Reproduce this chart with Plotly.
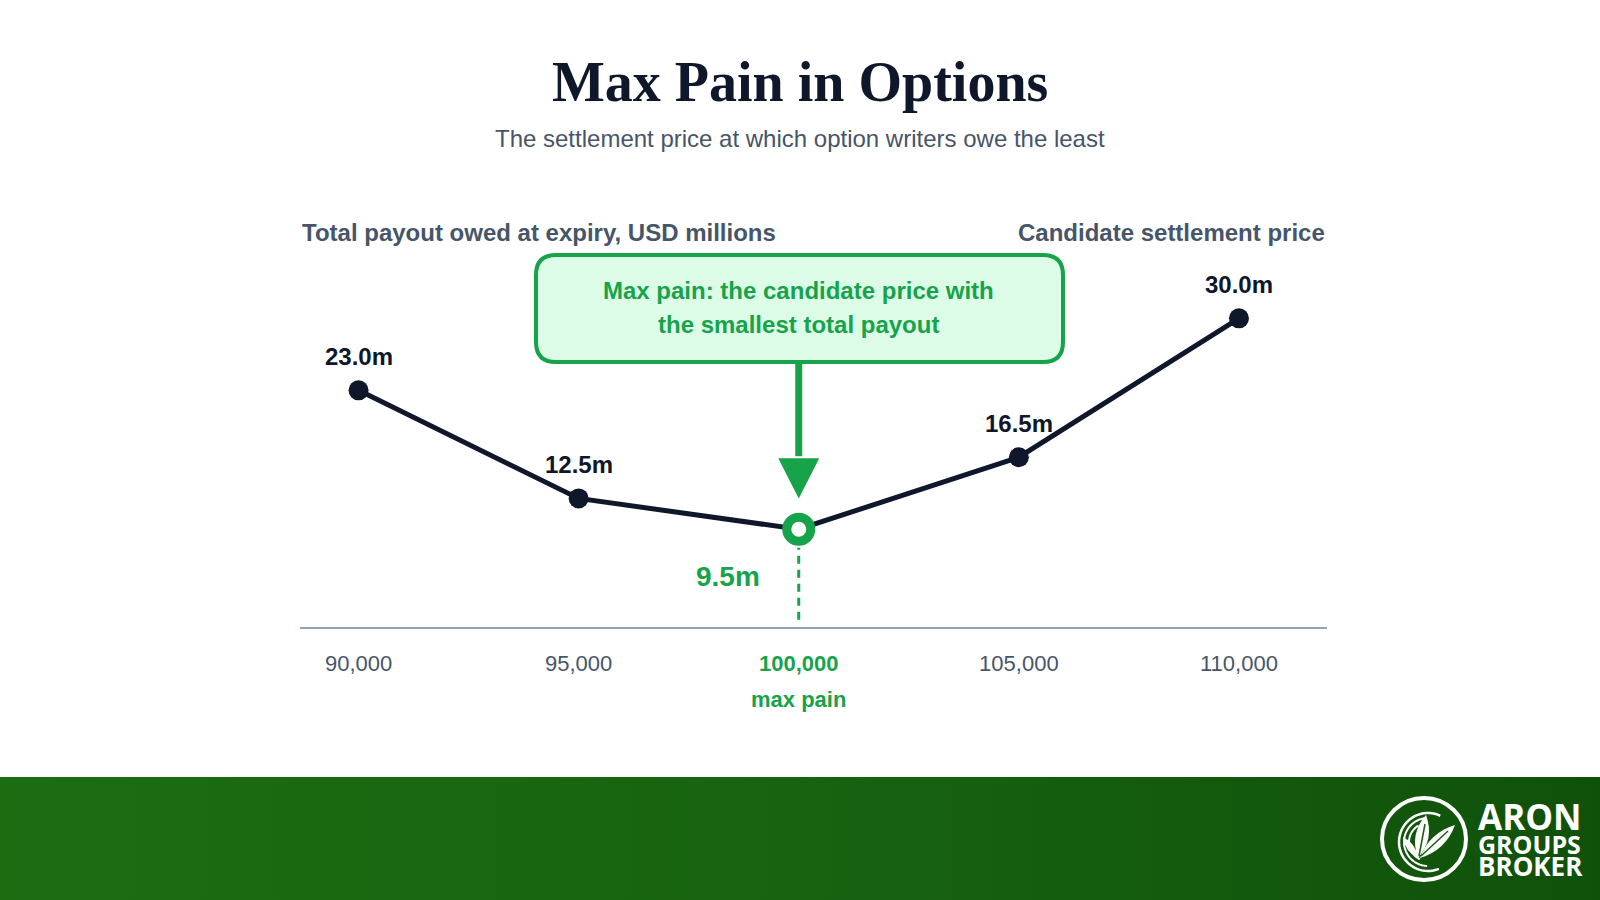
import math
import plotly.graph_objects as go

W, H = 1600, 900

# data
strikes = [90000, 95000, 100000, 105000, 110000]
payout_m = [23.0, 12.5, 9.5, 16.5, 30.0]
tick_text = ["90,000", "95,000", "100,000", "105,000", "110,000"]

title = "Max Pain in Options"
subtitle = "The settlement price at which option writers owe the least"
y_header = "Total payout owed at expiry, USD millions"
x_header = "Candidate settlement price"
callout_lines = ["Max pain: the candidate price with", "the smallest total payout"]
min_note = "max pain"
logo_lines = ["ARON", "GROUPS", "BROKER"]

NAVY = "#0f172a"
SLATE = "#475569"
GREEN = "#16a34a"
SANS = "Liberation Sans"

# plot box in pixels
PX_L, PX_R, PX_T, PX_B = 300, 1327, 250, 627
Y_MAX = 36.64
X_RANGE = [88670, 112000]
X_PER_PX = (X_RANGE[1] - X_RANGE[0]) / (PX_R - PX_L)


def py_to_y(py):
    return (PX_B - py) / (PX_B - PX_T) * Y_MAX


i_min = payout_m.index(min(payout_m))
x_min, y_min = strikes[i_min], payout_m[i_min]

fig = go.Figure()

# footer band (pixel overlay axes)
fig.add_trace(go.Scatter(
    x=[0, W, W, 0, 0], y=[777, 777, H, H, 777], xaxis="x3", yaxis="y3",
    mode="lines", fill="toself", line=dict(width=0),
    fillgradient=dict(type="horizontal",
                      colorscale=[[0, "#1c6d12"], [0.5, "#176310"], [1, "#10510a"]]),
    hoverinfo="skip", showlegend=False))

# payout curve
fig.add_trace(go.Scatter(
    x=strikes, y=payout_m, mode="lines+markers",
    line=dict(color=NAVY, width=5),
    marker=dict(size=20, color=NAVY),
    hoverinfo="skip", showlegend=False))

# max pain point
fig.add_trace(go.Scatter(
    x=[x_min], y=[y_min], mode="markers",
    marker=dict(size=24, color="white", line=dict(color=GREEN, width=9)),
    hoverinfo="skip", showlegend=False))

ticks = [f'<span style="color:{GREEN}"><b>{t}</b></span>' if i == i_min else t
         for i, t in enumerate(tick_text)]


def note(text, x, y, size, color, xref="paper", yref="paper", family=SANS, **kw):
    d = dict(text=text, x=x, y=y, xref=xref, yref=yref, showarrow=False,
             xanchor="center", yanchor="middle",
             font=dict(family=family, size=size, color=color))
    d.update(kw)
    return d


annotations = [
    note(f"<b>{title}</b>", 0.5, 1 - 82 / H, 56, NAVY, family="Liberation Serif"),
    note(subtitle, 0.5, 1 - 139 / H, 24, SLATE),
    note(f"<b>{y_header}</b>", PX_L / W, 1 - 232 / H, 24, SLATE, xanchor="left"),
    note(f"<b>{x_header}</b>", PX_R / W, 1 - 232 / H, 24, SLATE, xanchor="right"),
    note(f"<b>{min_note}</b>", x_min, 1 - 699 / H, 22, GREEN, xref="x"),
    note(f"<b>{y_min:.1f}m</b>", x_min, y_min, 28, GREEN, xref="x", yref="y",
         xshift=-71, yshift=-47),
]
for line, yy in zip(callout_lines, [291, 324]):
    annotations.append(note(f"<b>{line}</b>", x_min, 1 - yy / H, 24, GREEN, xref="x"))
for i, (s, v) in enumerate(zip(strikes, payout_m)):
    if i == i_min:
        continue
    annotations.append(note(f"<b>{v:.1f}m</b>", s, v, 24, NAVY, xref="x", yref="y", yshift=34))

logo_y = [816, 843.5, 866]
logo_size = [35, 25, 26]
for txt, yy, sz in zip(logo_lines, logo_y, logo_size):
    annotations.append(note(f"<b>{txt}</b>", 1476 / W, 1 - yy / H, sz, "white",
                            family="Open Sans", xanchor="left"))


def rounded_box(x0, y0, x1, y1, r):
    return (f"M {x0 + r},{y0} L {x1 - r},{y0} Q {x1},{y0} {x1},{y0 + r} "
            f"L {x1},{y1 - r} Q {x1},{y1} {x1 - r},{y1} L {x0 + r},{y1} "
            f"Q {x0},{y1} {x0},{y1 - r} L {x0},{y0 + r} Q {x0},{y0} {x0 + r},{y0} Z")


def arc(cx, cy, r, a0, a1, n=40):
    pts = []
    for k in range(n + 1):
        a = math.radians(a0 + (a1 - a0) * k / n)
        pts.append((cx + r * math.cos(a), cy - r * math.sin(a)))
    return "M " + " L ".join(f"{x:.2f},{y:.2f}" for x, y in pts)


def leaf(base, tip, w):
    bx, by = base
    tx, ty = tip
    mx, my = (bx + tx) / 2, (by + ty) / 2
    dx, dy = tx - bx, ty - by
    ln = math.hypot(dx, dy)
    nx, ny = -dy / ln * w, dx / ln * w
    return (f"M {bx},{by} Q {mx + nx:.2f},{my + ny:.2f} {tx},{ty} "
            f"Q {mx - nx:.2f},{my - ny:.2f} {bx},{by} Z")


tri_half = 20.5 * X_PER_PX
tip_y = y_min + 3.0
base_y = y_min + 6.9
box_bottom = 362
VEIN = "#176010"

shapes = [
    # callout box
    dict(type="path", xref="x3", yref="y3", path=rounded_box(536, 255, 1063, box_bottom, 20),
         fillcolor="#dcfce7", line=dict(color=GREEN, width=4), layer="above"),
    # arrow
    dict(type="line", xref="x", yref="y", x0=x_min, x1=x_min,
         y0=py_to_y(box_bottom + 2), y1=base_y + 0.2, line=dict(color=GREEN, width=7)),
    dict(type="path", xref="x", yref="y",
         path=f"M {x_min - tri_half},{base_y} L {x_min + tri_half},{base_y} L {x_min},{tip_y} Z",
         fillcolor=GREEN, line=dict(width=0)),
    # dashed drop line
    dict(type="line", xref="x", yref="y", x0=x_min, x1=x_min, y0=0.7, y1=y_min - 1.8,
         line=dict(color=GREEN, width=3, dash="8px,6px")),
    # logo
    dict(type="circle", xref="x3", yref="y3", x0=1424 - 42, x1=1424 + 42, y0=839 - 41, y1=839 + 41,
         line=dict(color="white", width=4), layer="above"),
    dict(type="path", xref="x3", yref="y3", path=arc(1428, 842, 29, 65, 292),
         line=dict(color="white", width=2.5), layer="above"),
    dict(type="path", xref="x3", yref="y3", path=arc(1428, 842, 24, 95, 268),
         line=dict(color="white", width=2), layer="above"),
    dict(type="path", xref="x3", yref="y3", path=arc(1428, 842, 19, 120, 245),
         line=dict(color="white", width=2), layer="above"),
    dict(type="path", xref="x3", yref="y3", path=leaf((1418, 858), (1426, 815), 13),
         fillcolor="white", line=dict(width=0), layer="above"),
    dict(type="path", xref="x3", yref="y3", path=leaf((1420, 858), (1455, 825), 12),
         fillcolor="white", line=dict(width=0), layer="above"),
    dict(type="path", xref="x3", yref="y3", path=leaf((1418, 858), (1403, 837), 7),
         fillcolor="white", line=dict(width=0), layer="above"),
    dict(type="line", xref="x3", yref="y3", x0=1419, y0=856, x1=1425, y1=824,
         line=dict(color=VEIN, width=1.5), layer="above"),
    dict(type="line", xref="x3", yref="y3", x0=1421, y0=856, x1=1448, y1=831,
         line=dict(color=VEIN, width=1.5), layer="above"),
]

fig.update_layout(
    width=W, height=H, margin=dict(l=0, r=0, t=0, b=0),
    paper_bgcolor="white", plot_bgcolor="rgba(0,0,0,0)",
    showlegend=False,
    xaxis=dict(domain=[PX_L / W, PX_R / W], range=X_RANGE, tickvals=strikes, ticktext=ticks,
               showgrid=False, zeroline=False, showline=True, linecolor="#94a3b8", linewidth=2,
               ticks="", ticklabelstandoff=16, fixedrange=True,
               tickfont=dict(family=SANS, size=22, color=SLATE)),
    yaxis=dict(domain=[1 - PX_B / H, 1 - PX_T / H], range=[0, Y_MAX], visible=False,
               fixedrange=True),
    xaxis3=dict(domain=[0, 1], range=[0, W], visible=False, anchor="y3", fixedrange=True),
    yaxis3=dict(domain=[0, 1], range=[H, 0], visible=False, anchor="x3", fixedrange=True),
    annotations=annotations,
    shapes=shapes,
)

fig.write_html("out.html", config={"displayModeBar": False},
               post_script="document.body.style.margin='0';")
